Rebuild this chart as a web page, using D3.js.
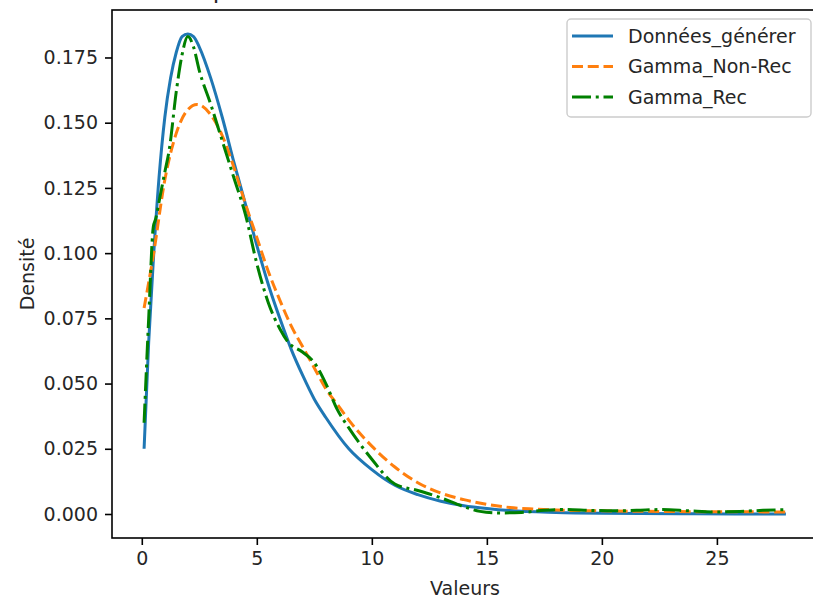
<!DOCTYPE html>
<html>
<head>
<meta charset="utf-8">
<script src="https://cdn.jsdelivr.net/npm/d3@7"></script>
<style>
body { margin:0; background:#fff; }
svg { display:block; }
svg text { font-family: "DejaVu Sans", sans-serif; fill:#262626; }
.axis path, .axis line { stroke:#000; stroke-width:1.6px; }
.axis text { font-size:19px; fill:#262626; }
.spine { stroke:#000; stroke-width:1.6px; fill:none; }
</style>
</head>
<body>
<script>
var seriesNames = ['Données_générer', 'Gamma_Non-Rec', 'Gamma_Rec']
var xTicks = [0, 5, 10, 15, 20, 25]
var yTicks = [0.000, 0.025, 0.050, 0.075, 0.100, 0.125, 0.150, 0.175]

// x and density
var donneesX = [0.1, 0.3, 0.5, 0.75, 1.0, 1.25, 1.5, 1.75, 2.0, 2.25, 2.5, 3.0, 3.5, 4.0, 4.5, 5.0, 5.5, 6.0, 6.5, 7.0, 7.5, 8.0, 9.0, 10, 11, 12, 13, 14, 15, 16, 18, 20, 24, 28]
var donneesY = [0.025, 0.066, 0.097, 0.129, 0.152, 0.167, 0.177, 0.183, 0.184, 0.183, 0.179, 0.167, 0.152, 0.135, 0.119, 0.103, 0.088, 0.075, 0.063, 0.053, 0.044, 0.037, 0.025, 0.017, 0.011, 0.0074, 0.0049, 0.0032, 0.0021, 0.0013, 0.0006, 0.0003, 0.0001, 0.0000]

var nonRecX = [0.1, 0.5, 1.0, 1.5, 2.0, 2.4, 3.0, 3.5, 4.0, 4.5, 5.0, 5.5, 6.0, 6.5, 7.0, 7.5, 8.0, 8.5, 9.0, 10, 11, 12, 13, 14, 15, 16, 17, 18, 20, 24, 28]
var nonRecY = [0.079, 0.099, 0.128, 0.146, 0.155, 0.157, 0.153, 0.145, 0.133, 0.119, 0.106, 0.093, 0.082, 0.072, 0.064, 0.056, 0.048, 0.042, 0.036, 0.026, 0.018, 0.012, 0.008, 0.0055, 0.0037, 0.0025, 0.0019, 0.0015, 0.0012, 0.0009, 0.0008]

var recX = [0.1, 0.3, 0.5, 0.6, 0.8, 1.0, 1.2, 1.5, 1.75, 2.0, 2.25, 2.5, 3.0, 3.5, 4.0, 4.5, 5.0, 5.5, 6.0, 6.35, 7.0, 7.5, 8.0, 8.5, 9.0, 10, 11, 12, 13, 14, 14.7, 15.5, 16.5, 17.5, 18.3, 19.5, 20.5, 21.5, 22.6, 23.8, 24.9, 26, 27, 28]
var recY = [0.035, 0.075, 0.110, 0.113, 0.122, 0.131, 0.140, 0.162, 0.176, 0.183, 0.179, 0.170, 0.157, 0.143, 0.129, 0.115, 0.096, 0.081, 0.071, 0.066, 0.062, 0.058, 0.050, 0.040, 0.033, 0.021, 0.0115, 0.009, 0.0062, 0.0028, 0.001, 0.0004, 0.0006, 0.0014, 0.0017, 0.0014, 0.0012, 0.0014, 0.0017, 0.0012, 0.0008, 0.0010, 0.0014, 0.0017]

var colors = ['#1f77b4', '#ff7f0e', 'green']
var dashes = ['none', '11,4.75', '19,4.75,3,4.75']

var margin = {left:112, top:10}
var width = 706
var height = 528

var series = [
    donneesX.map(function(d,i){return {x:d, y:donneesY[i]}}),
    nonRecX.map(function(d,i){return {x:d, y:nonRecY[i]}}),
    recX.map(function(d,i){return {x:d, y:recY[i]}})
]

var allX = donneesX.concat(nonRecX, recX)
var allY = donneesY.concat(nonRecY, recY)
var xMin = d3.min(allX), xMax = d3.max(allX)
var yMin = d3.min(allY), yMax = d3.max(allY)
var xPad = (xMax - xMin) * 0.05
var yPad = (yMax - yMin) * 0.05

var x = d3.scaleLinear()
    .domain([xMin - xPad, xMax + xPad])
    .range([0, width])
var y = d3.scaleLinear()
    .domain([yMin - yPad, yMax + yPad])
    .range([height, 0])

var svg = d3.select("body").append("svg")
    .attr("width", 813)
    .attr("height", 601)

//TITLE (cut off at top of picture, only the descender shows)
svg.append("text")
    .attr("x", 158)
    .attr("y", -2)
    .style("font-size", "24px")
    .text("Comparaison des densités")

var chartGroup = svg.append("g")
    .attr("transform","translate("+margin.left+","+margin.top+")")

//AXES
var xAxis = d3.axisBottom(x).tickValues(xTicks).tickSize(7).tickPadding(7).tickFormat(d3.format("d"))
var yAxis = d3.axisLeft(y).tickValues(yTicks).tickSize(7).tickPadding(7).tickFormat(d3.format(".3f"))

chartGroup.append("g").attr("class","x axis").attr("transform","translate(0,"+height+")").call(xAxis)
chartGroup.append("g").attr("class","y axis").call(yAxis)
chartGroup.selectAll(".axis .domain").remove()

//LINES
var line = d3.line()
    .x(function(d){return x(d.x)})
    .y(function(d){return y(d.y)})
    .curve(d3.curveMonotoneX)

chartGroup.selectAll("path.serie")
    .data(series)
    .enter().append("path")
    .attr("class","serie")
    .attr("d", line)
    .attr("fill","none")
    .attr("stroke", function(d,i){return colors[i]})
    .attr("stroke-width", 3)
    .attr("stroke-dasharray", function(d,i){return dashes[i]})

//SPINES
chartGroup.append("rect")
    .attr("class","spine")
    .attr("width", width)
    .attr("height", height)

//AXIS LABELS
svg.append("text")
    .attr("x", margin.left + width/2)
    .attr("y", 595)
    .attr("text-anchor","middle")
    .style("font-size","19px")
    .text("Valeurs")
svg.append("text")
    .attr("transform","translate(34,"+(margin.top+height/2)+") rotate(-90)")
    .attr("text-anchor","middle")
    .style("font-size","19px")
    .text("Densité")

//LEGEND
var legend = svg.append("g").attr("transform","translate(567,19)")
legend.append("rect")
    .attr("width", 244)
    .attr("height", 98)
    .attr("rx", 4)
    .attr("fill","#fff")
    .attr("fill-opacity",0.8)
    .attr("stroke","#cccccc")
    .attr("stroke-width",1.4)
var items = legend.selectAll("g.item")
    .data(seriesNames)
    .enter().append("g")
    .attr("class","item")
    .attr("transform", function(d,i){return "translate(0,"+(17 + i*30.5)+")"})
items.append("line")
    .attr("x1",5).attr("x2",46)
    .attr("stroke", function(d,i){return colors[i]})
    .attr("stroke-width",3)
    .attr("stroke-dasharray", function(d,i){return dashes[i]})
items.append("text")
    .attr("x",61)
    .attr("dy","0.35em")
    .style("font-size","19px")
    .text(function(d){return d})
</script>
</body>
</html>
